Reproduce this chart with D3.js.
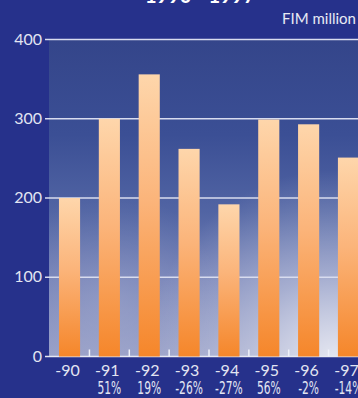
<!DOCTYPE html>
<html><head><meta charset="utf-8">
<script src="https://cdn.jsdelivr.net/npm/d3@7"></script>
<style>html,body{margin:0;padding:0;background:#26318b;overflow:hidden}</style>
</head><body>
<script>
const categories = ["-90","-91","-92","-93","-94","-95","-96","-97"];
const values = [200, 300, 356, 262, 192, 299, 293, 251];
const changes = ["", "51%", "19%", "-26%", "-27%", "56%", "-2%", "-14%"];
const yTicks = [0, 100, 200, 300, 400];
const title = "1990 - 1997";
const unit = "FIM million";

const W = 358, H = 398;
const svg = d3.select("body").append("svg").attr("width", W).attr("height", H);
const defs = svg.append("defs");

const x = d3.scaleBand().domain(categories).range([49, 369]).paddingInner(0.47).paddingOuter(0.25);
const y = d3.scaleLinear().domain([0, 400]).range([356.5, 39.5]);

const sky = defs.append("linearGradient").attr("id","sky").attr("x1",0).attr("y1",0).attr("x2",0).attr("y2",1);
[["0%","#34458a"],["30%","#3b4f95"],["55%","#5265a4"],["75%","#7380b6"],["100%","#959dc6"]]
  .forEach(([o,c])=>sky.append("stop").attr("offset",o).attr("stop-color",c));
const glow = defs.append("radialGradient").attr("id","glow").attr("gradientUnits","userSpaceOnUse")
  .attr("cx",335).attr("cy",360).attr("r",190);
[["0%","#ffffff",0.75],["45%","#ffffff",0.35],["100%","#ffffff",0]]
  .forEach(([o,c,a])=>glow.append("stop").attr("offset",o).attr("stop-color",c).attr("stop-opacity",a));
const glow2 = defs.append("radialGradient").attr("id","glow2").attr("gradientUnits","userSpaceOnUse")
  .attr("cx",110).attr("cy",300).attr("r",110);
[["0%","#ffffff",0.15],["100%","#ffffff",0]]
  .forEach(([o,c,a])=>glow2.append("stop").attr("offset",o).attr("stop-color",c).attr("stop-opacity",a));

const barG = defs.append("linearGradient").attr("id","bar").attr("x1",0).attr("y1",0).attr("x2",0).attr("y2",1);
[["0%","#fed6ab"],["45%","#fbb47a"],["100%","#f5862a"]]
  .forEach(([o,c])=>barG.append("stop").attr("offset",o).attr("stop-color",c));

const px0 = 49, px1 = W, py0 = y(400), py1 = y(0);
["url(#sky)","url(#glow2)","url(#glow)"].forEach(f =>
  svg.append("rect").attr("x",px0).attr("y",py0).attr("width",px1-px0).attr("height",py1-py0).attr("fill",f));

svg.append("g").selectAll("line").data(yTicks).join("line")
  .attr("x1",45).attr("x2",W).attr("y1",d=>y(d)).attr("y2",d=>y(d))
  .attr("stroke", d=> d===0 ? "#e6e8f2" : "#d8dcef").attr("stroke-width",1.6);

svg.append("g").selectAll("text").data(yTicks).join("text")
  .attr("x",42).attr("y",d=>y(d)+5).attr("text-anchor","end")
  .attr("font-family","Lato, 'Open Sans', sans-serif").attr("font-size",16)
  .attr("fill","#e2e5f2").text(d=>d);

svg.append("g").selectAll("rect").data(values).join("rect")
  .attr("x",(d,i)=>x(categories[i])).attr("width",x.bandwidth())
  .attr("y",d=>y(d)).attr("height",d=>y(0)-y(d)).attr("fill","url(#bar)");

const gap = x.step()*x.paddingInner()/2;
svg.append("g").selectAll("line").data(categories.slice(1)).join("line")
  .attr("x1",d=>x(d)-gap).attr("x2",d=>x(d)-gap).attr("y1",y(0)).attr("y2",y(0)-7)
  .attr("stroke","#eef0f8").attr("stroke-width",1.5);

svg.append("g").selectAll("text").data(categories).join("text")
  .attr("x",d=>x(d)+x.bandwidth()/2-2).attr("y",376).attr("text-anchor","middle")
  .attr("font-family","Lato, 'Open Sans', sans-serif").attr("font-size",16)
  .attr("fill","#e2e5f2").text(d=>d);

svg.append("g").selectAll("text").data(changes).join("text")
  .attr("transform",(d,i)=>`translate(${x(categories[i])+x.bandwidth()/2},394) scale(0.7,1)`)
  .attr("text-anchor","middle")
  .attr("font-family","'Liberation Sans Narrow', 'DejaVu Sans Condensed', sans-serif").attr("font-size",17)
  .attr("fill","#e2e5f2").text(d=>d);

svg.append("text").attr("x",356).attr("y",24).attr("text-anchor","end")
  .attr("font-family","Lato, 'Open Sans', sans-serif").attr("font-size",15)
  .attr("fill","#e8eaf4").text(unit);
svg.append("text").attr("x",200).attr("y",3).attr("text-anchor","middle")
  .attr("font-family","Lato, 'Open Sans', sans-serif").attr("font-size",20).attr("font-weight","bold")
  .attr("fill","#ffffff").text(title);
</script>
</body></html>
